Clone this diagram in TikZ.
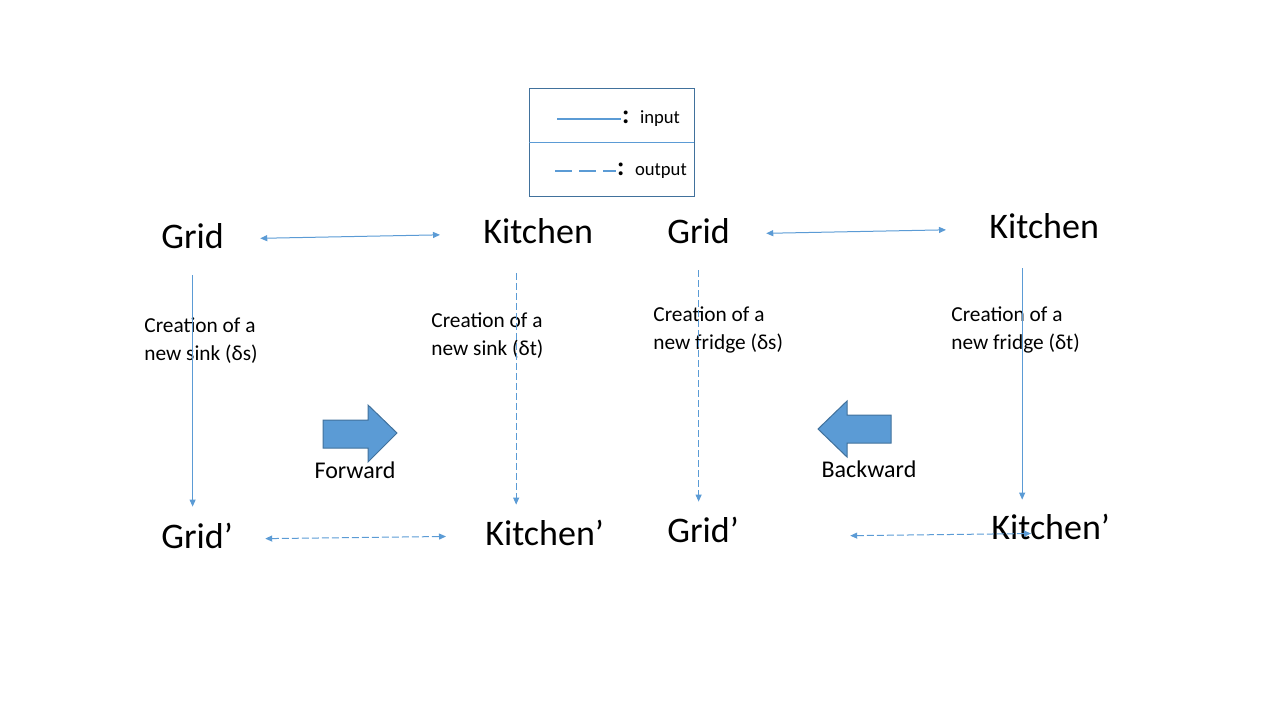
\documentclass[tikz,border=0pt]{standalone}
\usepackage{fontspec}
\setmainfont{Carlito}
\newfontfamily\cjk{Noto Sans CJK SC}
\usetikzlibrary{arrows.meta,calc}
\definecolor{officeblue}{HTML}{5B9BD5}
\definecolor{officeedge}{HTML}{41719C}
\tikzset{lbl/.style={inner sep=0pt, font=\fontsize{18}{21.6}\selectfont,
    text height=13.5pt, text depth=4.5pt, anchor=base west},
  note/.style={inner sep=0pt, font=\fontsize{10.67}{14.2}\selectfont,
    align=left, anchor=north west},
  dir/.style={inner sep=0pt, font=\fontsize{12}{14.4}\selectfont},
  key/.style={inner sep=0pt, font=\fontsize{9.33}{11.2}\selectfont, anchor=west},
  tip/.style={-{Triangle[length=3.5pt,width=3pt]}},
  both/.style={{Triangle[length=3.5pt,width=3pt]}-{Triangle[length=3.5pt,width=3pt]}},
  inflow/.style={officeblue, line width=0.5pt},
  outflow/.style={officeblue, line width=0.5pt, dash pattern=on 3.5pt off 1.5pt},
  block/.style={fill=officeblue, draw=officeedge, line width=0.5pt}}

\begin{document}
\begin{tikzpicture}[x=0.5pt, y=-0.5pt]
\useasboundingbox (0,0) rectangle (1280,720);
\draw[officeedge, line width=0.5pt] (529,88) rectangle (694,196);
\draw[officeblue, line width=0.5pt] (529,142) -- (694,142);
\node[key] (kin) at (621,119) {{\cjk\bfseries ：}input};
\node[key] (kout) at (616,171) {{\cjk\bfseries ：}output};
\coordinate (kin0) at (557,119);
\coordinate (kout0) at (555,171);
\draw[inflow, line width=1pt] (kin0) -- (kin.west);
\draw[officeblue, line width=1pt, dash pattern=on 8.5pt off 3.5pt]
  (kout0) -- (kout.west);
\node[lbl] (g1) at (161,248) {Grid};
\node[lbl] (k1) at (483,243) {Kitchen};
\node[lbl] (g2) at (667,243) {Grid};
\node[lbl] (k2) at (989,238) {Kitchen};
\node[lbl] (g1p) at (161,548) {Grid’};
\node[lbl] (k1p) at (485,545) {Kitchen’};
\node[lbl] (g2p) at (667,542) {Grid’};
\node[lbl] (k2p) at (991,539) {Kitchen’};
\node[note] (c1) at (144,317) {Creation of a\\new sink (δs)};
\node[note] (c2) at (431,312) {Creation of a\\new sink (δt)};
\node[note] (c3) at (653,306) {Creation of a\\new fridge (δs)};
\node[note] (c4) at (951,306) {Creation of a\\new fridge (δt)};
\coordinate (g2q) at ($(g2p.east)+(0,4)$);
\coordinate (k2q) at ($(k2p.west)+(0,4)$);
\draw[inflow, both, shorten <=18pt, shorten >=21.5pt] (g1.east) -- (k1.west);
\draw[inflow, both, shorten <=18pt, shorten >=21.5pt] (g2.east) -- (k2.west);
\draw[outflow, both, shorten <=16pt, shorten >=19.5pt] (g1p.east) -- (k1p.west);
\draw[outflow, both, shorten <=55.5pt, shorten >=-20pt] (g2q) -- (k2q);
\coordinate (k1s) at ($(k1.south)+(-22,0)$);
\coordinate (k2s) at ($(k2.south)+(-22,0)$);
\draw[inflow, tip, shorten <=9pt, shorten >=7pt] (g1.south) -- (g1.south |- g1p.north);
\draw[outflow, tip, shorten <=10.5pt, shorten >=6.5pt] (k1s) -- (k1s |- k1p.north);
\draw[outflow, tip, shorten <=9pt, shorten >=6.5pt] (g2.south) -- (g2.south |- g2p.north);
\draw[inflow, tip, shorten <=10.5pt, shorten >=6pt] (k2s) -- (k2s |- k2p.north);
\filldraw[block] (323,420) -- (368,420) -- (368,405) -- (397,433) -- (368,462)
  -- (368,448) -- (323,448) -- cycle;
\node[dir] (fwd) at (355,470) {Forward};
\filldraw[block] (891,415) -- (847,415) -- (847,401) -- (818,429) -- (847,457)
  -- (847,443) -- (891,443) -- cycle;
\node[dir] (bwd) at (869,469) {Backward};
\end{tikzpicture}
\end{document}
